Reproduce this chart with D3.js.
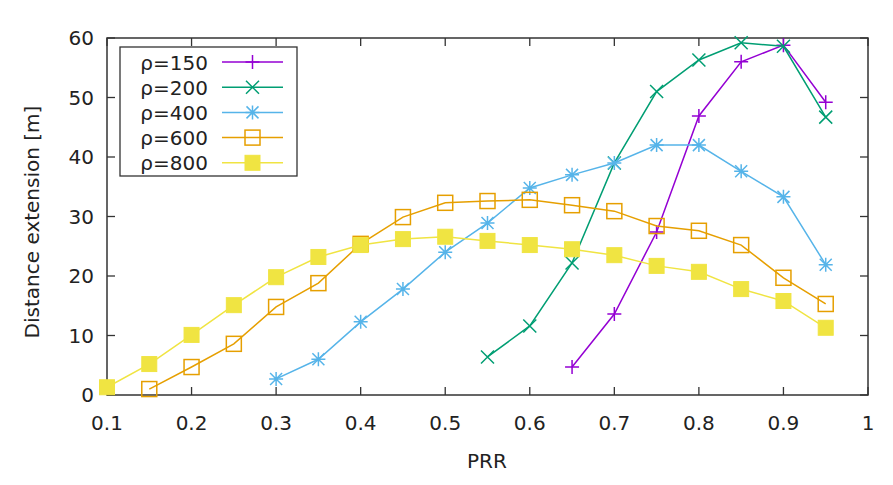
<!DOCTYPE html>
<html><head><meta charset="utf-8">
<script src="https://cdn.jsdelivr.net/npm/d3@7"></script>
<style>body{margin:0;background:#fff}svg{display:block}</style>
</head><body>
<svg id="c" width="893" height="485"></svg>
<script>
const xTicks = [0.1,0.2,0.3,0.4,0.5,0.6,0.7,0.8,0.9,1];
const yTicks = [0,10,20,30,40,50,60];
const labels = ["ρ=150","ρ=200","ρ=400","ρ=600","ρ=800"];
const colors = ["#9400d3","#009e73","#56b4e9","#e69f00","#f0e442"];
const symbols = ["plus","cross","star","square","filled"];
const x150 = [0.65,0.7,0.75,0.8,0.85,0.9,0.95];
const y150 = [4.7,13.6,27.4,46.9,56,58.8,49.2];
const x200 = [0.55,0.6,0.65,0.7,0.75,0.8,0.85,0.9,0.95];
const y200 = [6.4,11.6,22.2,39,51,56.3,59.2,58.6,46.7];
const x400 = [0.3,0.35,0.4,0.45,0.5,0.55,0.6,0.65,0.7,0.75,0.8,0.85,0.9,0.95];
const y400 = [2.7,6,12.3,17.8,24,28.9,34.8,37,39,42,42,37.6,33.3,21.9];
const x600 = [0.15,0.2,0.25,0.3,0.35,0.4,0.45,0.5,0.55,0.6,0.65,0.7,0.75,0.8,0.85,0.9,0.95];
const y600 = [1,4.7,8.6,14.8,18.8,25.4,29.9,32.3,32.6,32.8,31.9,30.9,28.4,27.6,25.2,19.7,15.3];
const x800 = [0.1,0.15,0.2,0.25,0.3,0.35,0.4,0.45,0.5,0.55,0.6,0.65,0.7,0.75,0.8,0.85,0.9,0.95];
const y800 = [1.3,5.2,10.1,15.1,19.8,23.2,25.2,26.2,26.6,25.9,25.2,24.5,23.5,21.7,20.7,17.8,15.8,11.3];
const seriesX = [x150,x200,x400,x600,x800];
const seriesY = [y150,y200,y400,y600,y800];

const svg = d3.select("#c");
const L=107, R=868, T=38, B=395;
const x = d3.scaleLinear().domain([0.1,1]).range([L,R]);
const y = d3.scaleLinear().domain([0,60]).range([B,T]);
const font = "'DejaVu Sans', Verdana, sans-serif";
const axisCol = "#333";
const txtCol = "#222";

const tk = 8;
const g = svg.append("g");
xTicks.forEach(v=>{
  g.append("line").attr("x1",x(v)).attr("x2",x(v)).attr("y1",B).attr("y2",B-tk).attr("stroke",axisCol).attr("stroke-width",1.3);
  g.append("line").attr("x1",x(v)).attr("x2",x(v)).attr("y1",T).attr("y2",T+tk).attr("stroke",axisCol).attr("stroke-width",1.3);
  g.append("text").attr("x",x(v)).attr("y",430).attr("text-anchor","middle").attr("font-family",font).attr("font-size",20).attr("fill",txtCol).text(d3.format("")(v));
});
yTicks.forEach(v=>{
  g.append("line").attr("x1",L).attr("x2",L+tk).attr("y1",y(v)).attr("y2",y(v)).attr("stroke",axisCol).attr("stroke-width",1.3);
  g.append("line").attr("x1",R).attr("x2",R-tk).attr("y1",y(v)).attr("y2",y(v)).attr("stroke",axisCol).attr("stroke-width",1.3);
  g.append("text").attr("x",94).attr("y",y(v)+7).attr("text-anchor","end").attr("font-family",font).attr("font-size",20).attr("fill",txtCol).text(v);
});
g.append("rect").attr("x",L).attr("y",T).attr("width",R-L).attr("height",B-T).attr("fill","none").attr("stroke",axisCol).attr("stroke-width",1.5);

g.append("text").attr("x",487).attr("y",468).attr("text-anchor","middle").attr("font-family",font).attr("font-size",20).attr("fill",txtCol).text("PRR");
g.append("text").attr("transform",`translate(39,222) rotate(-90)`).attr("text-anchor","middle").attr("font-family",font).attr("font-size",20).attr("fill",txtCol).text("Distance extension [m]");

function marker(sel, type, cx, cy, col){
  const s=7;
  if(type==="plus"){
    sel.append("path").attr("d",`M${cx-s},${cy}H${cx+s}M${cx},${cy-s}V${cy+s}`).attr("stroke",col).attr("stroke-width",1.5).attr("fill","none");
  } else if(type==="cross"){
    const d=6.5;
    sel.append("path").attr("d",`M${cx-d},${cy-d}L${cx+d},${cy+d}M${cx-d},${cy+d}L${cx+d},${cy-d}`).attr("stroke",col).attr("stroke-width",1.5).attr("fill","none");
  } else if(type==="star"){
    const d=6;
    sel.append("path").attr("d",`M${cx-s},${cy}H${cx+s}M${cx},${cy-s}V${cy+s}M${cx-d},${cy-d}L${cx+d},${cy+d}M${cx-d},${cy+d}L${cx+d},${cy-d}`).attr("stroke",col).attr("stroke-width",1.5).attr("fill","none");
  } else if(type==="square"){
    sel.append("rect").attr("x",cx-7.5).attr("y",cy-7.5).attr("width",15).attr("height",15).attr("fill","none").attr("stroke",col).attr("stroke-width",1.5);
  } else {
    sel.append("rect").attr("x",cx-7.5).attr("y",cy-7.5).attr("width",15).attr("height",15).attr("fill",col).attr("stroke",col).attr("stroke-width",1);
  }
}

const line = d3.line().x(d=>x(d[0])).y(d=>y(d[1]));
const plot = svg.append("g");
seriesX.forEach((xs,i)=>{
  const pts = xs.map((v,j)=>[v,seriesY[i][j]]);
  const sg = plot.append("g");
  sg.append("path").attr("d",line(pts)).attr("fill","none").attr("stroke",colors[i]).attr("stroke-width",1.5);
  pts.forEach(p=>marker(sg,symbols[i],x(p[0]),y(p[1]),colors[i]));
});

const lg = svg.append("g");
lg.append("rect").attr("x",120).attr("y",47).attr("width",177).attr("height",129).attr("fill","#fff").attr("stroke",axisCol).attr("stroke-width",1.3);
labels.forEach((lab,i)=>{
  const ly = 62 + i*25.2;
  lg.append("text").attr("x",208).attr("y",ly+7.5).attr("text-anchor","end").attr("font-family",font).attr("font-size",20).attr("fill",txtCol).text(lab);
  lg.append("line").attr("x1",222).attr("x2",283).attr("y1",ly).attr("y2",ly).attr("stroke",colors[i]).attr("stroke-width",1.5);
  marker(lg,symbols[i],252.5,ly,colors[i]);
});
</script>
</body></html>
